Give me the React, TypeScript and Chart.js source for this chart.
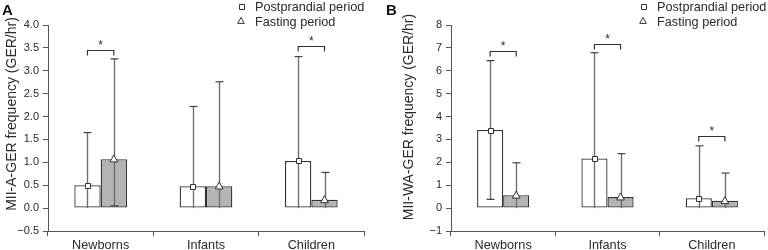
import React, { useEffect, useRef } from "react";
import { Chart, registerables } from "chart.js";

Chart.register(...registerables);

// ---------- data ----------
const categories = ["Newborns", "Infants", "Children"];
const legendLabels = ["Postprandial period", "Fasting period"];

// Panel A: MII-A-GER frequency
const aPostprandial = [0.5, 0.48, 1.03];
const aFasting = [1.07, 0.48, 0.18];
const aPostUpper = [1.65, 2.22, 3.31];
const aFastUpper = [3.26, 2.76, 0.78];
const aPostLower = [0, 0, 0];
const aFastLower = [0.05, 0, 0];
const aSignificance = [3.46, null, 3.55];
const aTicks = [-0.5, 0, 0.5, 1, 1.5, 2, 2.5, 3, 3.5, 4];

// Panel B: MII-WA-GER frequency
const bPostprandial = [3.41, 2.17, 0.43];
const bFasting = [0.56, 0.48, 0.32];
const bPostUpper = [6.44, 6.79, 2.72];
const bFastUpper = [1.98, 2.38, 1.53];
const bPostLower = [0.38, 0, 0];
const bFastLower = [0, 0, 0];
const bSignificance = [6.86, 7.18, 3.15];
const bTicks = [-1, 0, 1, 2, 3, 4, 5, 6, 7, 8];

const FONT = "'Liberation Sans', Arial, sans-serif";
const TEXT = "#2a2a2a";
const AXIS = "#555";

type PanelProps = {
  label: string;
  yTitle: string;
  post: number[];
  fast: number[];
  postUpper: number[];
  fastUpper: number[];
  postLower: number[];
  fastLower: number[];
  sig: (number | null)[];
  ticks: number[];
  decimals: number;
  yWidth: number;
  padRight: number;
  legendX: number;
  titleX: number;
  titleY: number;
};

function drawSquare(ctx: CanvasRenderingContext2D, x: number, y: number, s: number) {
  ctx.beginPath();
  ctx.rect(Math.round(x - s / 2) + 0.5, Math.round(y - s / 2) + 0.5, s, s);
  ctx.fillStyle = "#fff";
  ctx.fill();
  ctx.strokeStyle = "#333";
  ctx.lineWidth = 1;
  ctx.stroke();
}

function drawTriangle(ctx: CanvasRenderingContext2D, x: number, y: number, s: number) {
  ctx.beginPath();
  ctx.moveTo(x, y - s * 0.6);
  ctx.lineTo(x + s * 0.55, y + s * 0.4);
  ctx.lineTo(x - s * 0.55, y + s * 0.4);
  ctx.closePath();
  ctx.fillStyle = "#fff";
  ctx.fill();
  ctx.strokeStyle = "#333";
  ctx.lineWidth = 1;
  ctx.stroke();
}

function Panel(p: PanelProps) {
  const ref = useRef<HTMLCanvasElement | null>(null);

  useEffect(() => {
    if (!ref.current) return;
    const minV = p.ticks[0];
    const maxV = p.ticks[p.ticks.length - 1];
    const step = p.ticks[1] - p.ticks[0];

    const overlay = {
      id: "overlay" + p.label,
      afterDatasetsDraw(chart: any) {
        const ctx: CanvasRenderingContext2D = chart.ctx;
        const ys = chart.scales.y;
        const series = [
          { upper: p.postUpper, lower: p.postLower },
          { upper: p.fastUpper, lower: p.fastLower },
        ];
        ctx.save();
        // whiskers
        series.forEach((s, di) => {
          const meta = chart.getDatasetMeta(di);
          meta.data.forEach((el: any, i: number) => {
            const x = Math.round(el.x) + 0.5;
            const yu = ys.getPixelForValue(s.upper[i]);
            const yl = ys.getPixelForValue(s.lower[i]);
            ctx.strokeStyle = "#707070";
            ctx.lineWidth = 1.4;
            ctx.beginPath();
            ctx.moveTo(x, yl);
            ctx.lineTo(x, yu);
            ctx.stroke();
            ctx.strokeStyle = "#444";
            ctx.lineWidth = 1.2;
            ctx.beginPath();
            ctx.moveTo(x - 4, yu);
            ctx.lineTo(x + 4, yu);
            if (s.lower[i] > 0) {
              ctx.moveTo(x - 4, yl);
              ctx.lineTo(x + 4, yl);
            }
            ctx.stroke();
          });
        });
        // markers
        chart.getDatasetMeta(0).data.forEach((el: any) => drawSquare(ctx, el.x, el.y, 5));
        chart.getDatasetMeta(1).data.forEach((el: any) => drawTriangle(ctx, el.x, el.y, 7));
        // significance brackets
        const m0 = chart.getDatasetMeta(0).data;
        const m1 = chart.getDatasetMeta(1).data;
        p.sig.forEach((v, i) => {
          if (v === null) return;
          const yb = Math.round(ys.getPixelForValue(v)) + 0.5;
          const x0 = m0[i].x;
          const x1 = m1[i].x;
          ctx.strokeStyle = "#333";
          ctx.lineWidth = 1.2;
          ctx.beginPath();
          ctx.moveTo(x0, yb + 5);
          ctx.lineTo(x0, yb);
          ctx.lineTo(x1, yb);
          ctx.lineTo(x1, yb + 5);
          ctx.stroke();
          ctx.fillStyle = TEXT;
          ctx.font = `12px ${FONT}`;
          ctx.textAlign = "center";
          ctx.textBaseline = "alphabetic";
          ctx.fillText("*", (x0 + x1) / 2, yb - 2);
        });
        ctx.restore();
      },
      afterDraw(chart: any) {
        const ctx: CanvasRenderingContext2D = chart.ctx;
        ctx.save();
        // panel label
        ctx.fillStyle = "#111";
        ctx.font = `bold 15px ${FONT}`;
        ctx.textAlign = "left";
        ctx.textBaseline = "alphabetic";
        ctx.fillText(p.label, 2, 15);
        // legend
        ctx.font = `12.7px ${FONT}`;
        ctx.fillStyle = TEXT;
        ctx.fillText(legendLabels[0], p.legendX, 11);
        ctx.fillText(legendLabels[1], p.legendX, 25.5);
        drawSquare(ctx, p.legendX - 14, 6.5, 5);
        drawTriangle(ctx, p.legendX - 14, 21, 6);
        // y title
        ctx.translate(p.titleX, p.titleY);
        ctx.rotate(-Math.PI / 2);
        ctx.font = `14px ${FONT}`;
        ctx.textAlign = "center";
        ctx.textBaseline = "middle";
        ctx.fillStyle = TEXT;
        ctx.fillText(p.yTitle, 0, 0);
        ctx.restore();
      },
    };

    const chart = new Chart(ref.current, {
      type: "bar",
      data: {
        labels: categories,
        datasets: [
          {
            label: legendLabels[0],
            data: p.post,
            backgroundColor: "#ffffff",
            borderColor: "#333",
            borderWidth: 1.3,
            borderSkipped: false,
            categoryPercentage: 0.5,
            barPercentage: 1.0,
          },
          {
            label: legendLabels[1],
            data: p.fast,
            backgroundColor: "#b4b4b4",
            borderColor: "#333",
            borderWidth: 1.3,
            borderSkipped: false,
            categoryPercentage: 0.5,
            barPercentage: 1.0,
          },
        ],
      },
      options: {
        animation: false,
        responsive: false,
        maintainAspectRatio: false,
        events: [],
        layout: { padding: { top: 25, right: p.padRight, left: 0, bottom: 0 } },
        plugins: { legend: { display: false }, tooltip: { enabled: false } },
        scales: {
          x: {
            offset: true,
            grid: {
              display: true,
              drawOnChartArea: false,
              drawTicks: true,
              tickLength: 5,
              color: AXIS,
              offset: true,
            },
            border: { display: true, color: AXIS, width: 1 },
            ticks: { color: TEXT, font: { family: FONT, size: 12.7 }, padding: 2 },
            afterFit: (s: any) => {
              s.height = 19;
            },
          },
          y: {
            min: minV,
            max: maxV,
            afterBuildTicks: (s: any) => {
              s.ticks = p.ticks.map((v) => ({ value: v }));
            },
            ticks: {
              stepSize: step,
              color: TEXT,
              font: { family: FONT, size: 11 },
              padding: 4,
              callback: (v: any) => Number(v).toFixed(p.decimals).replace("-", "\u2212"),
            },
            grid: { drawOnChartArea: false, drawTicks: true, tickLength: 5, color: AXIS },
            border: { display: true, color: AXIS, width: 1 },
            afterFit: (s: any) => {
              s.width = p.yWidth;
            },
          },
        },
      },
      plugins: [overlay],
    } as any);
    return () => chart.destroy();
  }, []);

  return <canvas ref={ref} width={384} height={250} style={{ display: "block", width: 384, height: 250 }} />;
}

export default function App() {
  return (
    <div style={{ position: "fixed", left: 0, top: 0, width: 768, height: 250, display: "flex", background: "#fff" }}>
      <Panel
        label="A"
        yTitle="MII-A-GER frequency (GER/hr)"
        post={aPostprandial}
        fast={aFasting}
        postUpper={aPostUpper}
        fastUpper={aFastUpper}
        postLower={aPostLower}
        fastLower={aFastLower}
        sig={aSignificance}
        ticks={aTicks}
        decimals={1}
        yWidth={48}
        padRight={20}
        legendX={255}
        titleX={12}
        titleY={114}
      />
      <Panel
        label="B"
        yTitle="MII-WA-GER frequency (GER/hr)"
        post={bPostprandial}
        fast={bFasting}
        postUpper={bPostUpper}
        fastUpper={bFastUpper}
        postLower={bPostLower}
        fastLower={bFastLower}
        sig={bSignificance}
        ticks={bTicks}
        decimals={0}
        yWidth={67}
        padRight={4}
        legendX={273}
        titleX={25}
        titleY={117}
      />
    </div>
  );
}
